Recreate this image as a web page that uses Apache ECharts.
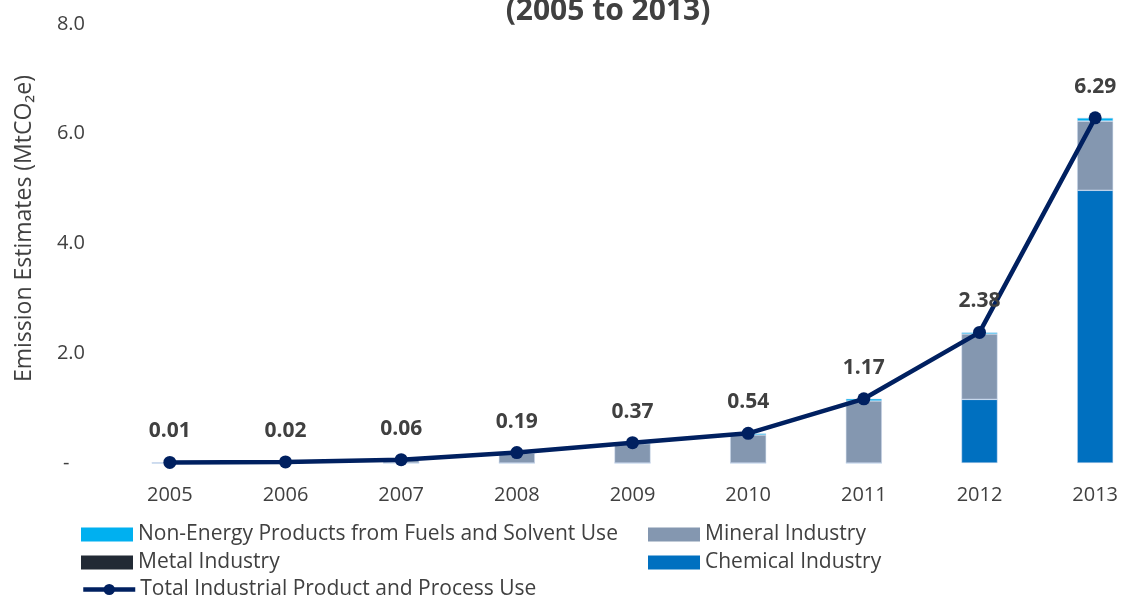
<!DOCTYPE html>
<html>
<head>
<meta charset="utf-8">
<script src="https://cdn.jsdelivr.net/npm/echarts@6/dist/echarts.min.js"></script>
<style>html,body{margin:0;padding:0;background:#fff;overflow:hidden}#c{width:1153px;height:597px}</style>
</head>
<body>
<div id="c"></div>
<script>
const years = ['2005','2006','2007','2008','2009','2010','2011','2012','2013'];
const chemical  = [0, 0, 0, 0, 0, 0, 0, 1.16, 4.97];
const metal     = [0, 0, 0, 0, 0, 0, 0, 0, 0];
const mineral   = [0, 0.01, 0.05, 0.18, 0.35, 0.51, 1.13, 1.19, 1.26];
const nonEnergy = [0.01, 0.01, 0.01, 0.01, 0.02, 0.03, 0.04, 0.03, 0.06];
const total     = [0.01, 0.02, 0.06, 0.19, 0.37, 0.54, 1.17, 2.38, 6.29];
const yTicks = [0, 2, 4, 6, 8];

const FONT = 'Open Sans';
const TXT = '#404040';
const chart = echarts.init(document.getElementById('c'));
const barBase = {type: 'bar', stack: 'ippu', barWidth: 36};
const bStyle = c => ({color: c, borderColor: 'rgba(200,215,235,0.8)', borderWidth: 0.6});
const legTxt = {fontFamily: FONT, fontSize: 21, color: TXT};
const leg = (name, left, top, rectIcon) => Object.assign({
  left: left, top: top, itemWidth: 52, itemHeight: 14, itemGap: 5,
  data: [name], textStyle: legTxt,
  itemStyle: {borderWidth: 0}
}, rectIcon ? {icon: 'rect'} : {lineStyle: {width: 4.5, color: '#002060'}, itemStyle: {borderWidth: 0, color: '#002060'}});
chart.setOption({
  animation: false,
  textStyle: {fontFamily: FONT},
  title: {
    text: '(2005 to 2013)', left: 603, top: -9, textAlign: 'center',
    textStyle: {fontFamily: FONT, fontSize: 30, fontWeight: 'bold', color: TXT}
  },
  grid: {left: 112, right: 0, top: 24, bottom: 134},
  legend: [
    leg('Non-Energy Products from Fuels and Solvent Use', 76, 519, true),
    leg('Metal Industry', 76, 547, true),
    leg('Total Industrial Product and Process Use', 76, 574, false),
    leg('Mineral Industry', 643, 519, true),
    leg('Chemical Industry', 643, 547, true)
  ],
  xAxis: {
    type: 'category', data: years,
    axisLine: {show: false}, axisTick: {show: false},
    axisLabel: {fontFamily: FONT, fontSize: 20, color: TXT, margin: 22}
  },
  yAxis: {
    type: 'value', min: yTicks[0], max: yTicks[yTicks.length - 1], interval: 2,
    splitLine: {show: false}, axisLine: {show: false}, axisTick: {show: false},
    axisLabel: {fontFamily: FONT, fontSize: 20, color: TXT, margin: 27,
      formatter: v => v === 0 ? '-   ' : v.toFixed(1)},
    name: 'Emission Estimates (MtCO\u2082e)', nameLocation: 'middle', nameGap: 76, nameRotate: 90,
    nameTextStyle: {fontFamily: FONT, fontSize: 23, color: TXT, padding: [0, 0, 0, 30]}
  },
  series: [
    Object.assign({}, barBase, {name: 'Chemical Industry', data: chemical, itemStyle: bStyle('#0070C0')}),
    Object.assign({}, barBase, {name: 'Metal Industry', data: metal, itemStyle: bStyle('#222A35')}),
    Object.assign({}, barBase, {name: 'Mineral Industry', data: mineral, itemStyle: bStyle('#8497B0')}),
    Object.assign({}, barBase, {name: 'Non-Energy Products from Fuels and Solvent Use', data: nonEnergy, itemStyle: bStyle('#00B0F0')}),
    {
      name: 'Total Industrial Product and Process Use', type: 'line', data: total,
      symbol: 'circle', symbolSize: 13, z: 10,
      lineStyle: {color: '#002060', width: 4.5},
      itemStyle: {color: '#002060'},
      label: {show: true, position: 'top', distance: 14, formatter: p => p.value.toFixed(2),
        fontFamily: FONT, fontSize: 21, fontWeight: 'bold', color: TXT}
    }
  ]
});
</script>
</body>
</html>
